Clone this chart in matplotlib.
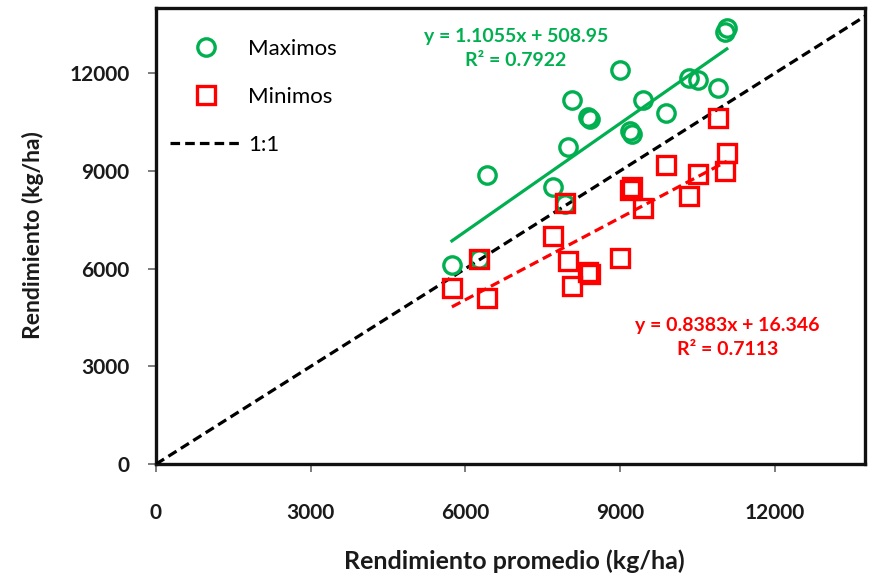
import numpy as np
import matplotlib
matplotlib.use("Agg")
import matplotlib.pyplot as plt

# ----------------------------------------------------------------
# Data
# ----------------------------------------------------------------
rend_promedio = [5738, 6262, 6417, 7696, 7928, 7986, 8065, 8375, 8414, 8995,
                 9189, 9228, 9441, 9887, 10333, 10507, 10894, 11030, 11069]
rend_maximos = [6107, 6292, 8870, 8501, 7980, 9729, 11171, 10650, 10588, 12092,
                10220, 10128, 11171, 10772, 11846, 11785, 11540, 13258, 13381]
rend_minimos = [5402, 6292, 5095, 6998, 8010, 6230, 5463, 5893, 5831, 6322,
                8409, 8501, 7857, 9177, 8225, 8900, 10619, 8993, 9545]

# trend line coefficients as printed on the chart (slope, intercept, R2)
fit_max = (1.1055, 508.95, 0.7922)
fit_min = (0.8383, 16.346, 0.7113)

x_ticks = [0, 3000, 6000, 9000, 12000]
y_ticks = [0, 3000, 6000, 9000, 12000]

GREEN = "#00B050"
RED = "#FF0000"

plt.rcParams["font.family"] = ["Lato", "DejaVu Sans"]

# ----------------------------------------------------------------
# Plot
# ----------------------------------------------------------------
fig = plt.figure(figsize=(8.69, 5.73), dpi=100)
ax = fig.add_axes([0.1795, 0.190, 0.816, 0.796])

x = np.array(rend_promedio, dtype=float)
xr = np.array([x.min(), x.max()])

ax.plot(x, rend_maximos, "o", ms=12.5, mfc="none", mec=GREEN, mew=2.4,
        label="Maximos", zorder=4)
ax.plot(x, rend_minimos, "s", ms=13, mfc="none", mec=RED, mew=2.4,
        label="Minimos", zorder=5)
ax.plot([0, 14000], [0, 14000], "--", color="black", lw=2.3,
        dashes=(3, 1.6), label="1:1", zorder=3)

ax.plot(xr, fit_max[0] * xr + fit_max[1], "-", color=GREEN, lw=2.3, zorder=3)
ax.plot(xr, fit_min[0] * xr + fit_min[1], "--", color=RED, lw=2.3,
        dashes=(3, 1.6), zorder=3)

# equation labels
ax.text(6980, 12750, "y = %.4fx + %.2f\nR\u00b2 = %.4f" % fit_max,
        color=GREEN, fontsize=14, fontweight="bold", ha="center",
        va="center", linespacing=1.5)
ax.text(11080, 3880, "y = %.4fx + %.3f\nR\u00b2 = %.4f" % fit_min,
        color=RED, fontsize=14, fontweight="bold", ha="center",
        va="center", linespacing=1.5)

ax.set_xlim(0, 13750)
ax.set_ylim(0, 14000)
ax.set_xticks(x_ticks)
ax.set_yticks(y_ticks)
ax.tick_params(direction="out", length=6, width=1.2, color="#666666",
               labelsize=15, labelcolor="#1a1a1a")
ax.tick_params(axis="y", pad=13)
ax.tick_params(axis="x", pad=22)
for lab in ax.get_xticklabels() + ax.get_yticklabels():
    lab.set_fontweight("bold")

for s in ax.spines.values():
    s.set_linewidth(2.4)
    s.set_color("#111111")

ax.set_xlabel("Rendimiento promedio (kg/ha)", fontsize=18, fontweight="bold",
              color="#1a1a1a")
ax.set_ylabel("Rendimiento (kg/ha)", fontsize=16.5, fontweight="bold",
              color="#1a1a1a")
ax.xaxis.label.set_va("center")
ax.yaxis.label.set_va("center")
ax.xaxis.set_label_coords(0.506, -0.213)
ax.yaxis.set_label_coords(-0.173, 0.502)

ax.legend(loc="upper left", frameon=False, fontsize=16, handlelength=3.2,
          handletextpad=0.3, labelspacing=1.27, numpoints=1,
          borderpad=0, borderaxespad=0, bbox_to_anchor=(0.0197, 0.933))

plt.savefig("out.png", dpi=100)
plt.close(fig)
